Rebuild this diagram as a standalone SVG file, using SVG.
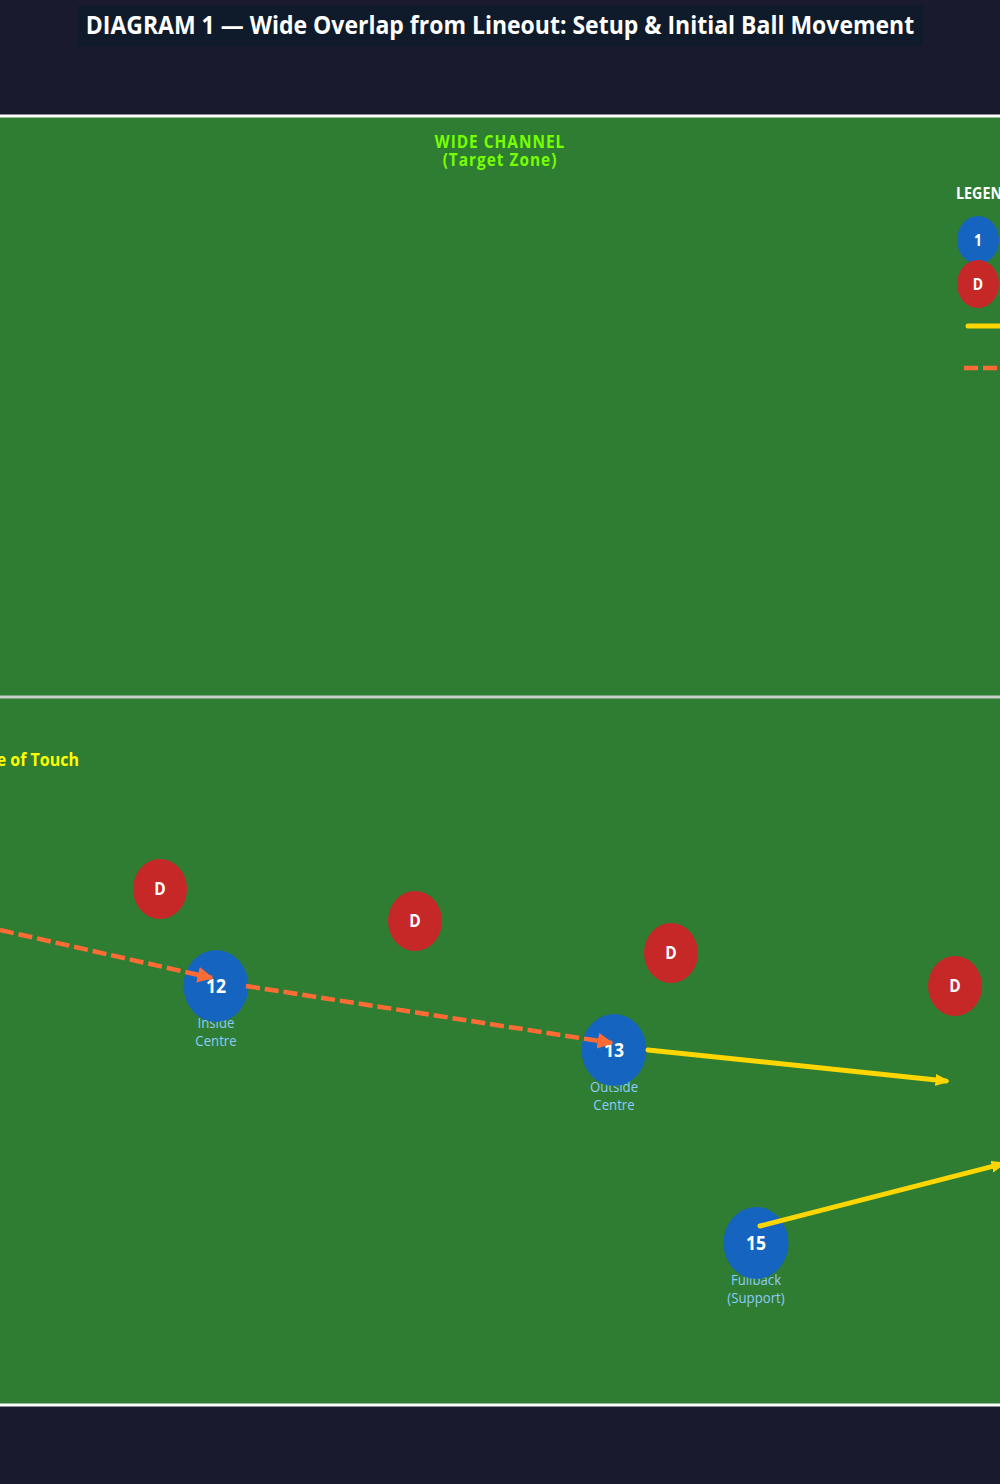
<svg xmlns="http://www.w3.org/2000/svg" width="1000" height="1484" viewBox="0 0 1000 1484">
<defs>
<style>
text{font-family:"Open Sans","Noto Sans",sans-serif}
.title{font-weight:700;font-size:23px;fill:#ffffff}
.zone{font-weight:700;font-size:15.4px;fill:#76ff03;letter-spacing:1px}
.touch{font-weight:700;font-size:16px;fill:#ffff00}
.num{font-weight:700;font-size:17.6px;fill:#ffffff}
.dlab{font-weight:700;font-size:15.5px;fill:#ffffff}
.ldlab{font-weight:700;font-size:14px;fill:#ffffff}
.role{font-size:13.2px;fill:#90caf9}
.leg{font-weight:700;font-size:14.3px;fill:#ffffff}
.att{fill:#1565c0}
.def{fill:#c62828}
.run{stroke:#ffd600;stroke-width:5;fill:none;stroke-linecap:round}
.pass{stroke:#ff6b35;stroke-width:4.5;fill:none;stroke-dasharray:14 5}
</style>
<marker id="ay" viewBox="0 0 10 10" refX="8" refY="5" markerWidth="13" markerHeight="13" markerUnits="userSpaceOnUse" orient="auto">
<path d="M0,1 L10,5 L0,9 L1.5,5 Z" fill="#ffd600" stroke="#ffd600" stroke-width="1" stroke-linejoin="round"/>
</marker>
<marker id="ao" viewBox="0 0 10 10" refX="9" refY="5" markerWidth="16" markerHeight="16" markerUnits="userSpaceOnUse" orient="auto">
<path d="M0,0 L10,5 L0,10 Z" fill="#ff6b35"/>
</marker>
</defs>
<rect x="0" y="0" width="1000" height="1484" fill="#1a1a2e"/>
<g id="title">
<rect x="78" y="5" width="845" height="41" fill="#0f1b2a"/>
<text class="title" text-anchor="middle" transform="matrix(1 0 0 1.11 500 33.5)">DIAGRAM 1 — Wide Overlap from Lineout: Setup &amp; Initial Ball Movement</text>
</g>
<g id="field">
<rect x="0" y="117" width="1000" height="1288" fill="#2e7d32"/>
<line x1="0" y1="116" x2="1000" y2="116" stroke="#ffffff" stroke-width="3"/>
<line x1="0" y1="1405" x2="1000" y2="1405" stroke="#ffffff" stroke-width="3"/>
<line x1="0" y1="697" x2="1000" y2="697" stroke="#c8d0c8" stroke-width="3"/>
<text class="zone" text-anchor="middle" transform="matrix(1 0 0 1.11 500 148)">WIDE CHANNEL</text>
<text class="zone" text-anchor="middle" transform="matrix(1 0 0 1.11 500 166)">(Target Zone)</text>
<text class="touch" text-anchor="end" transform="matrix(1 0 0 1.11 79 766)">Line of Touch</text>
</g>
<g id="legend">
<text class="leg" transform="matrix(1 0 0 1.11 956 199)">LEGEND</text>
<ellipse class="att" cx="978" cy="240" rx="21" ry="24"/>
<text class="ldlab" text-anchor="middle" transform="matrix(1 0 0 1.11 978 245.5)">1</text>
<ellipse class="def" cx="978" cy="284" rx="21" ry="24"/>
<text class="ldlab" text-anchor="middle" transform="matrix(1 0 0 1.11 978 289.5)">D</text>
<line class="run" x1="968" y1="326" x2="1010" y2="326"/>
<line class="pass" x1="964" y1="368" x2="1010" y2="368"/>
</g>
<g id="d1"><ellipse class="def" cx="160" cy="889" rx="27" ry="30"/><text class="dlab" text-anchor="middle" transform="matrix(1 0 0 1.11 160 895)">D</text></g>
<g id="d2"><ellipse class="def" cx="415" cy="921" rx="27" ry="30"/><text class="dlab" text-anchor="middle" transform="matrix(1 0 0 1.11 415 927)">D</text></g>
<g id="d3"><ellipse class="def" cx="671" cy="953" rx="27" ry="30"/><text class="dlab" text-anchor="middle" transform="matrix(1 0 0 1.11 671 959)">D</text></g>
<g id="d4"><ellipse class="def" cx="955" cy="986" rx="27" ry="30"/><text class="dlab" text-anchor="middle" transform="matrix(1 0 0 1.11 955 992)">D</text></g>
<g id="p12">
<text class="role" text-anchor="middle" transform="matrix(1 0 0 1.11 216 1028)">Inside</text>
<text class="role" text-anchor="middle" transform="matrix(1 0 0 1.11 216 1046)">Centre</text>
<ellipse class="att" cx="216" cy="986" rx="32.5" ry="36"/>
<text class="num" text-anchor="middle" transform="matrix(1 0 0 1.11 216 993)">12</text>
</g>
<g id="p13">
<text class="role" text-anchor="middle" transform="matrix(1 0 0 1.11 614 1092)">Outside</text>
<text class="role" text-anchor="middle" transform="matrix(1 0 0 1.11 614 1110)">Centre</text>
<ellipse class="att" cx="614" cy="1050" rx="32.5" ry="36"/>
<text class="num" text-anchor="middle" transform="matrix(1 0 0 1.11 614 1057)">13</text>
</g>
<g id="p15">
<text class="role" text-anchor="middle" transform="matrix(1 0 0 1.11 756 1285)">Fullback</text>
<text class="role" text-anchor="middle" transform="matrix(1 0 0 1.11 756 1303)">(Support)</text>
<ellipse class="att" cx="756" cy="1243" rx="32.5" ry="36"/>
<text class="num" text-anchor="middle" transform="matrix(1 0 0 1.11 756 1250)">15</text>
</g>
<g id="connectors">
<line class="pass" x1="0" y1="930" x2="212" y2="978" marker-end="url(#ao)"/>
<line class="pass" x1="246" y1="986" x2="612" y2="1043" marker-end="url(#ao)"/>
<line class="run" x1="648" y1="1050" x2="946" y2="1081" marker-end="url(#ay)"/>
<line class="run" x1="760" y1="1226" x2="1002" y2="1164" marker-end="url(#ay)"/>
</g>
</svg>
